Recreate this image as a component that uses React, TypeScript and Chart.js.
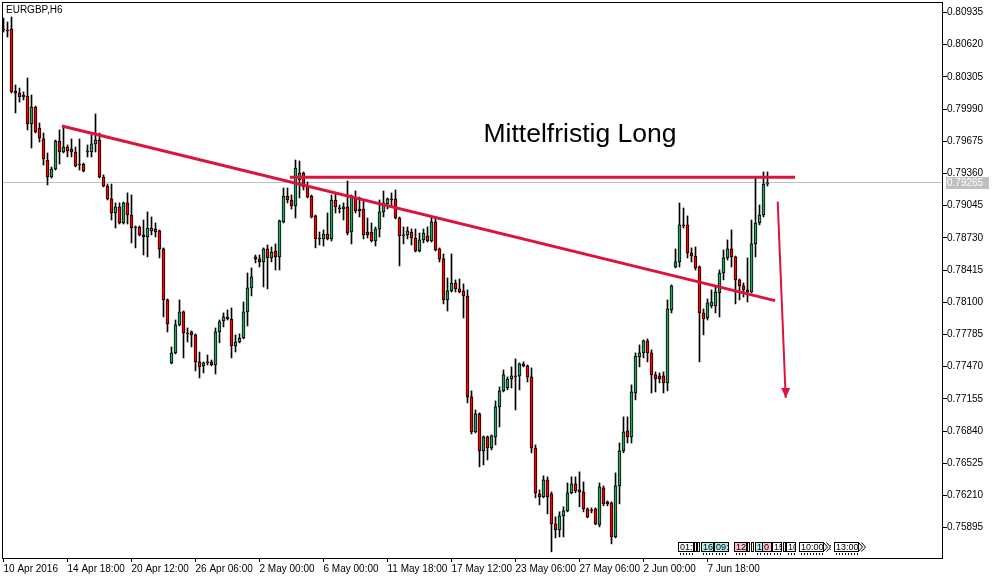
import React, { useEffect, useRef } from "react";
import { Chart, registerables } from "chart.js";

Chart.register(...registerables);

// ---- data ----
const symbolTitle = "EURGBP,H6";
const tickLabels = [
  "10 Apr 2016", "14 Apr 18:00", "20 Apr 12:00", "26 Apr 06:00", "2 May 00:00", "6 May 00:00",
  "11 May 18:00", "17 May 12:00", "23 May 06:00", "27 May 06:00", "2 Jun 00:00", "7 Jun 18:00",
];
const barsPerLabel = 16;
const priceTicks = [
  0.80935, 0.8062, 0.80305, 0.7999, 0.79675, 0.7936, 0.79045, 0.7873, 0.78415,
  0.781, 0.77785, 0.7747, 0.77155, 0.7684, 0.76525, 0.7621, 0.75895,
];

const open = [
  0.80773,0.80764,0.80773,0.80167,0.80147,0.80108,0.80118,0.79844,0.80010,0.79805,
  0.79698,0.79492,0.79326,0.79404,0.79678,0.79570,0.79619,0.79600,0.79570,0.79453,
  0.79453,0.79570,0.79570,0.79649,0.79688,0.79326,0.79238,0.79111,0.78974,0.79033,
  0.78876,0.79072,0.78954,0.78837,0.78837,0.78759,0.78739,0.78798,0.78817,0.78798,
  0.78622,0.78123,0.77507,0.77605,0.77879,0.78006,0.77800,0.77810,0.77781,0.77517,
  0.77478,0.77517,0.77517,0.77487,0.77810,0.77918,0.77957,0.77937,0.77673,0.77712,
  0.77751,0.78006,0.78241,0.78544,0.78524,0.78495,0.78622,0.78534,0.78602,0.78544,
  0.78886,0.79140,0.79101,0.79042,0.79297,0.79365,0.79228,0.79140,0.78945,0.78729,
  0.78720,0.78768,0.78720,0.79101,0.79023,0.79013,0.79033,0.78788,0.79130,0.79013,
  0.79013,0.78788,0.78788,0.78700,0.78817,0.78984,0.79062,0.79111,0.79111,0.78925,
  0.78759,0.78759,0.78788,0.78729,0.78602,0.78710,0.78749,0.78700,0.78886,0.78622,
  0.78524,0.78123,0.78211,0.78289,0.78231,0.78211,0.78162,0.77174,0.76832,0.77008,
  0.76646,0.76783,0.76675,0.76783,0.77077,0.77233,0.77262,0.77350,0.77380,0.77380,
  0.77497,0.77478,0.77370,0.76675,0.76226,0.76197,0.76363,0.76226,0.75932,0.75874,
  0.76011,0.76060,0.76236,0.76324,0.76265,0.76245,0.76079,0.76069,0.76079,0.75923,
  0.76285,0.76148,0.76138,0.75805,0.76304,0.76646,0.76842,0.76783,0.77213,0.77566,
  0.77605,0.77722,0.77605,0.77390,0.77380,0.77380,0.77311,0.78025,0.78446,0.78495,
  0.78857,0.78857,0.78583,0.78553,0.78446,0.77996,0.77947,0.78064,0.78064,0.78192,
  0.78387,0.78534,0.78622,0.78544,0.78319,0.78260,0.78221,0.78201,0.78671,0.78876,
  0.78954,0.79257,
];
const high = [
  0.80881,0.80842,0.80891,0.80226,0.80196,0.80157,0.80294,0.80128,0.80020,0.79854,
  0.79756,0.79561,0.79424,0.79688,0.79786,0.79815,0.79639,0.79698,0.79619,0.79698,
  0.79463,0.79639,0.79737,0.79942,0.79756,0.79346,0.79257,0.79257,0.79072,0.79072,
  0.79081,0.79170,0.79150,0.78847,0.78847,0.78905,0.78984,0.78935,0.78876,0.78808,
  0.78632,0.78133,0.77663,0.77927,0.78123,0.78015,0.77849,0.77820,0.77791,0.77614,
  0.77517,0.77585,0.77536,0.77849,0.77927,0.77996,0.78025,0.78045,0.77781,0.77791,
  0.78103,0.78387,0.78436,0.78563,0.78563,0.78632,0.78661,0.78641,0.78671,0.78905,
  0.79218,0.79218,0.79150,0.79492,0.79482,0.79375,0.79277,0.79150,0.78954,0.78788,
  0.78808,0.78974,0.79150,0.79160,0.79052,0.79072,0.79287,0.79150,0.79189,0.79130,
  0.79101,0.78925,0.78876,0.78837,0.79101,0.79189,0.79121,0.79170,0.79199,0.78935,
  0.78837,0.78837,0.78817,0.78817,0.78778,0.78817,0.78837,0.78935,0.78935,0.78632,
  0.78573,0.78338,0.78573,0.78319,0.78328,0.78280,0.78221,0.77233,0.77047,0.77018,
  0.76793,0.76793,0.76803,0.77135,0.77272,0.77438,0.77370,0.77468,0.77546,0.77507,
  0.77517,0.77487,0.77458,0.76705,0.76265,0.76402,0.76392,0.76245,0.76001,0.76050,
  0.76099,0.76333,0.76392,0.76392,0.76441,0.76343,0.76089,0.76089,0.76089,0.76333,
  0.76304,0.76157,0.76148,0.76431,0.76724,0.76979,0.76979,0.77292,0.77605,0.77683,
  0.77732,0.77742,0.77634,0.77419,0.77409,0.77419,0.78123,0.78270,0.78622,0.79072,
  0.79023,0.78945,0.78632,0.78641,0.78456,0.78035,0.78133,0.78221,0.78250,0.78416,
  0.78612,0.78710,0.78808,0.78553,0.78328,0.78289,0.78534,0.78905,0.79316,0.79052,
  0.79375,0.79375,
];
const low = [
  0.80744,0.80695,0.80147,0.79952,0.80059,0.80079,0.79786,0.79609,0.79756,0.79668,
  0.79443,0.79248,0.79316,0.79394,0.79453,0.79561,0.79522,0.79522,0.79424,0.79394,
  0.79375,0.79522,0.79522,0.79570,0.79316,0.79228,0.79101,0.78905,0.78827,0.78866,
  0.78866,0.78866,0.78681,0.78632,0.78749,0.78563,0.78544,0.78759,0.78739,0.78534,
  0.77957,0.77810,0.77497,0.77595,0.77869,0.77556,0.77712,0.77663,0.77429,0.77360,
  0.77409,0.77487,0.77478,0.77399,0.77703,0.77859,0.77927,0.77556,0.77614,0.77703,
  0.77742,0.77869,0.78162,0.78485,0.78446,0.78250,0.78231,0.78495,0.78416,0.78416,
  0.78876,0.79072,0.79013,0.78925,0.79121,0.79199,0.79121,0.78925,0.78632,0.78661,
  0.78651,0.78710,0.78700,0.78974,0.78974,0.78905,0.78759,0.78671,0.78974,0.78935,
  0.78720,0.78729,0.78690,0.78651,0.78739,0.78935,0.79013,0.79033,0.78915,0.78456,
  0.78671,0.78720,0.78661,0.78592,0.78592,0.78681,0.78690,0.78690,0.78602,0.78495,
  0.78084,0.78015,0.78201,0.78201,0.78192,0.77947,0.77116,0.76812,0.76822,0.76490,
  0.76509,0.76558,0.76656,0.76705,0.76881,0.77223,0.77243,0.77262,0.77047,0.77243,
  0.77468,0.77321,0.76627,0.76187,0.76118,0.76187,0.76030,0.75659,0.75795,0.75805,
  0.75805,0.76050,0.76226,0.76236,0.76099,0.76050,0.75991,0.76040,0.75923,0.75903,
  0.76109,0.76109,0.75737,0.75795,0.76128,0.76627,0.76724,0.76724,0.77145,0.77468,
  0.77556,0.77517,0.77213,0.77223,0.77311,0.77213,0.77233,0.77996,0.78436,0.78446,
  0.78827,0.78534,0.78495,0.78416,0.77517,0.77781,0.77927,0.78045,0.77996,0.77957,
  0.78319,0.78514,0.78446,0.78084,0.78123,0.78152,0.78103,0.78192,0.78544,0.78857,
  0.78935,0.79238,
];
const close = [
  0.80764,0.80754,0.80157,0.80147,0.80108,0.80128,0.79844,0.80010,0.79766,0.79707,
  0.79502,0.79326,0.79404,0.79678,0.79570,0.79619,0.79580,0.79570,0.79434,0.79443,
  0.79385,0.79580,0.79649,0.79688,0.79326,0.79238,0.79111,0.78974,0.79033,0.78876,
  0.79072,0.78954,0.78827,0.78827,0.78759,0.78739,0.78827,0.78827,0.78788,0.78622,
  0.78123,0.77888,0.77605,0.77879,0.78006,0.77800,0.77791,0.77781,0.77517,0.77468,
  0.77507,0.77507,0.77487,0.77810,0.77908,0.77957,0.77937,0.77673,0.77712,0.77751,
  0.78006,0.78241,0.78348,0.78524,0.78495,0.78622,0.78534,0.78592,0.78544,0.78896,
  0.79140,0.79101,0.79042,0.79414,0.79365,0.79228,0.79130,0.78935,0.78720,0.78720,
  0.78768,0.78720,0.79101,0.79033,0.79013,0.79033,0.78778,0.79130,0.78994,0.78994,
  0.78759,0.78759,0.78700,0.78817,0.78984,0.79072,0.79111,0.79101,0.78925,0.78749,
  0.78749,0.78798,0.78729,0.78602,0.78710,0.78778,0.78700,0.78886,0.78612,0.78524,
  0.78123,0.78211,0.78289,0.78231,0.78201,0.78162,0.77174,0.76832,0.77008,0.76646,
  0.76783,0.76675,0.76793,0.77077,0.77233,0.77390,0.77350,0.77380,0.77370,0.77497,
  0.77478,0.77370,0.76675,0.76236,0.76197,0.76363,0.76197,0.75932,0.75874,0.76011,
  0.76060,0.76236,0.76324,0.76255,0.76245,0.76079,0.76001,0.76060,0.75932,0.76294,
  0.76128,0.76128,0.75805,0.76304,0.76646,0.76832,0.76783,0.77223,0.77575,0.77605,
  0.77722,0.77605,0.77390,0.77350,0.77350,0.77311,0.78035,0.78260,0.78495,0.78857,
  0.78847,0.78583,0.78553,0.78436,0.77996,0.77937,0.78094,0.78103,0.78201,0.78387,
  0.78534,0.78622,0.78544,0.78319,0.78260,0.78221,0.78201,0.78671,0.78876,0.78954,
  0.79257,0.79265,
];

// hand-drawn objects (bar index, price)
const trendX = [14.6, 192.9];
const trendY = [0.79825, 0.78116];
const levelX = [71.6, 197.9];
const levelY = [0.79323, 0.79323];
const arrowX = [193.55, 195.55];
const arrowY = [0.79085, 0.77165];
const arrowHeadBaseY = 0.77262;
const noteText = "Mittelfristig Long";
const noteX = 120;
const noteY = 0.79671;

// bottom-right overlay boxes
const overlayTexts = ["01:", "", "", "16", "09:", "12", "", "", "1", "0", "15", "", "10", "10:00", "13:00"];

// ---- styles / layout ----
const GREEN = "#27A35F";
const RED = "#FF0000";
const CRIMSON = "#DC143C";
const FONT = '"Liberation Sans", Arial, sans-serif';
const overlayLayout = [
  { l: 678, w: 15, f: "#ffffff" },
  { l: 694, w: 2, f: "#ffffff" },
  { l: 697, w: 2, f: "#ffffff" },
  { l: 701, w: 12, f: "#AFEEEE" },
  { l: 714, w: 14, f: "#AFEEEE" },
  { l: 734, w: 12, f: "#FFC0CB" },
  { l: 747, w: 2, f: "#ffffff" },
  { l: 751, w: 2, f: "#ffffff" },
  { l: 755, w: 7, f: "#AFEEEE" },
  { l: 762, w: 9, f: "#FFC0CB" },
  { l: 772, w: 9, f: "#ffffff" },
  { l: 783, w: 2, f: "#ffffff" },
  { l: 786, w: 9, f: "#ffffff" },
  { l: 799, w: 24, f: "#ffffff", chevron: true },
  { l: 834, w: 24, f: "#ffffff", chevron: true },
];

const mt4Plugin = {
  id: "mt4Decor",
  beforeDatasetsDraw(chart: any) {
    const { ctx, chartArea: a, scales } = chart;
    const py = Math.round(scales.y.getPixelForValue(close[close.length - 1])) - 0.5;
    ctx.save();
    ctx.strokeStyle = "#C0C0C0";
    ctx.lineWidth = 1;
    ctx.beginPath();
    ctx.moveTo(a.left, py);
    ctx.lineTo(a.right, py);
    ctx.stroke();
    ctx.restore();
  },
  afterDatasetsDraw(chart: any) {
    const { ctx, chartArea: a, scales } = chart;
    const xs = scales.x;
    const ys = scales.y;
    ctx.save();

    // arrow head
    const tipX = xs.getPixelForValue(arrowX[1]);
    const tipY = ys.getPixelForValue(arrowY[1]);
    const baseY = ys.getPixelForValue(arrowHeadBaseY);
    ctx.fillStyle = CRIMSON;
    ctx.beginPath();
    ctx.moveTo(tipX - 4.5, baseY);
    ctx.lineTo(tipX + 4.5, baseY);
    ctx.lineTo(tipX, tipY);
    ctx.closePath();
    ctx.fill();

    // note text
    ctx.fillStyle = "#000";
    ctx.font = `26.5px ${FONT}`;
    ctx.textAlign = "left";
    ctx.textBaseline = "alphabetic";
    ctx.fillText(noteText, xs.getPixelForValue(noteX), ys.getPixelForValue(noteY));

    // title
    ctx.font = `10px ${FONT}`;
    ctx.fillText(symbolTitle, a.left + 4, a.top + 11);

    // frame
    ctx.strokeStyle = "#000";
    ctx.lineWidth = 1;
    ctx.strokeRect(a.left + 0.5, a.top + 0.5, a.right - a.left - 1, a.bottom - a.top);

    // current price label
    const py = Math.round(ys.getPixelForValue(close[close.length - 1]));
    ctx.fillStyle = "#C0C0C0";
    ctx.fillRect(a.right + 3, py - 6, 43, 12);
    ctx.fillStyle = "#fff";
    ctx.textBaseline = "middle";
    ctx.font = `10px ${FONT}`;
    ctx.fillText(close[close.length - 1].toFixed(5), a.right + 4, py);

    // overlay boxes
    const top = a.bottom - 16;
    const h = 9;
    ctx.font = `9px ${FONT}`;
    overlayLayout.forEach((b, k) => {
      ctx.fillStyle = b.f;
      ctx.fillRect(b.l, top, b.w, h);
      ctx.strokeStyle = "#000";
      ctx.strokeRect(b.l + 0.5, top + 0.5, b.w, h);
      const t = overlayTexts[k];
      if (t) {
        ctx.save();
        ctx.beginPath();
        ctx.rect(b.l + 1, top, b.w - 1, h);
        ctx.clip();
        ctx.fillStyle = "#000";
        ctx.textBaseline = "middle";
        ctx.fillText(t, b.l + 2, top + h / 2 + 1);
        ctx.restore();
      }
      ctx.fillStyle = "#000";
      for (let xx = b.l + 2; xx < b.l + b.w; xx += 3) {
        ctx.fillRect(xx, top + h + 2, 1, 2);
      }
      if (b.chevron) {
        ctx.beginPath();
        ctx.moveTo(b.l + b.w + 0.5, top + 0.5);
        ctx.lineTo(b.l + b.w + 4.5, top + h / 2 + 0.5);
        ctx.lineTo(b.l + b.w + 0.5, top + h + 0.5);
        ctx.moveTo(b.l + b.w + 3.5, top + 0.5);
        ctx.lineTo(b.l + b.w + 7.5, top + h / 2 + 0.5);
        ctx.lineTo(b.l + b.w + 3.5, top + h + 0.5);
        ctx.stroke();
      }
    });
    ctx.fillStyle = "#000";
    ctx.textBaseline = "middle";
    ctx.fillText(":", 829, top + h / 2 + 1);

    ctx.restore();
  },
};

export default function App() {
  const ref = useRef<HTMLCanvasElement | null>(null);

  useEffect(() => {
    const canvas = ref.current;
    if (!canvas) return;

    const wickData = low.map((l, i) => ({ x: i, y: [l, high[i]] }));
    const bodyData = open.map((o, i) => ({ x: i, y: [o, close[i]] }));
    const bodyColors = open.map((o, i) => (close[i] >= o ? GREEN : RED));
    const toPts = (xa: number[], ya: number[]) => xa.map((x, i) => ({ x, y: ya[i] }));

    const gridCommon = {
      display: true,
      drawOnChartArea: false,
      drawTicks: true,
      tickLength: 4,
      color: "#000",
      lineWidth: 1,
      offset: false,
    };

    const chart = new Chart(canvas, {
      type: "bar",
      data: {
        datasets: [
          {
            type: "bar",
            label: "wick",
            data: wickData as any,
            backgroundColor: "#000",
            borderWidth: 0,
            barThickness: 1,
            grouped: false,
            order: 3,
          },
          {
            type: "bar",
            label: "body",
            data: bodyData as any,
            backgroundColor: bodyColors,
            borderColor: "#000",
            borderWidth: 1,
            borderSkipped: false,
            barThickness: 3,
            grouped: false,
            order: 2,
          },
          {
            type: "line",
            label: "trend",
            data: toPts(trendX, trendY) as any,
            borderColor: CRIMSON,
            borderWidth: 3,
            pointRadius: 0,
            order: 1,
          },
          {
            type: "line",
            label: "level",
            data: toPts(levelX, levelY) as any,
            borderColor: CRIMSON,
            borderWidth: 3,
            pointRadius: 0,
            order: 1,
          },
          {
            type: "line",
            label: "arrow",
            data: toPts(arrowX, arrowY) as any,
            borderColor: CRIMSON,
            borderWidth: 2,
            pointRadius: 0,
            order: 1,
          },
        ],
      },
      options: {
        animation: false,
        responsive: false,
        devicePixelRatio: 1,
        events: [],
        layout: { padding: { left: 2, top: 2, right: 0, bottom: 0 } },
        plugins: { legend: { display: false }, tooltip: { enabled: false } },
        scales: {
          x: {
            type: "linear",
            min: -0.375,
            max: 234.875,
            offset: false,
            grid: gridCommon as any,
            border: { display: false },
            afterBuildTicks: (s: any) => {
              s.ticks = tickLabels.map((_, k) => ({ value: k * barsPerLabel }));
            },
            afterFit: (s: any) => {
              s.height = 21;
              s.paddingLeft = 0;
              s.paddingRight = 0;
            },
            ticks: {
              autoSkip: false,
              maxRotation: 0,
              minRotation: 0,
              align: "start",
              padding: 1,
              color: "#000",
              font: { family: FONT, size: 10 },
              callback: (v: any) => tickLabels[Math.round(Number(v) / barsPerLabel)] ?? "",
            },
          },
          y: {
            type: "linear",
            position: "right",
            min: 0.755985,
            max: 0.810377,
            beginAtZero: false,
            grid: gridCommon as any,
            border: { display: false },
            afterBuildTicks: (s: any) => {
              s.ticks = priceTicks.map((v) => ({ value: v }));
            },
            afterFit: (s: any) => {
              s.width = 52;
              s.paddingTop = 0;
              s.paddingBottom = 0;
            },
            ticks: {
              autoSkip: false,
              padding: 0,
              color: "#000",
              font: { family: FONT, size: 10 },
              callback: (v: any) => Number(v).toFixed(5),
            },
          },
        },
      },
      plugins: [mt4Plugin as any],
    });

    return () => chart.destroy();
  }, []);

  return (
    <div style={{ position: "absolute", left: 0, top: 0, width: 995, height: 579, background: "#fff" }}>
      <canvas ref={ref} width={995} height={579} style={{ display: "block", width: 995, height: 579 }} />
    </div>
  );
}
